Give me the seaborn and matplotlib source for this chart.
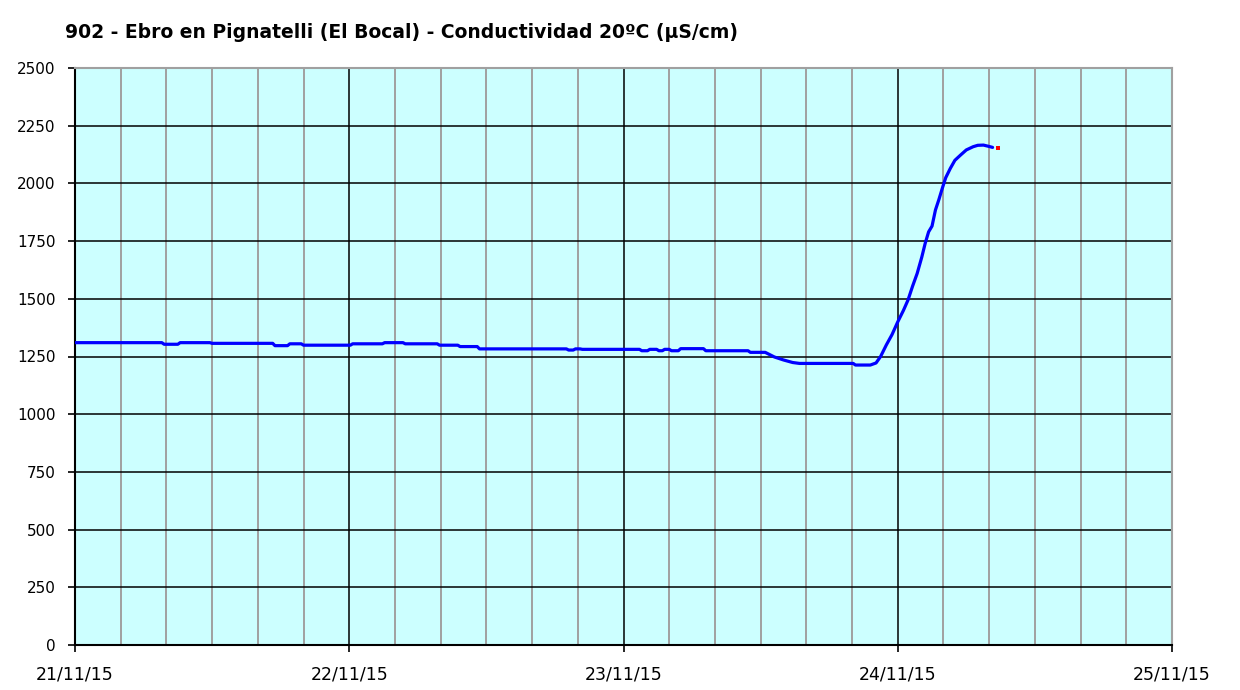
import pandas as pd
import numpy as np
import matplotlib
matplotlib.use('Agg')
import matplotlib.pyplot as plt
import matplotlib.dates as mdates
import seaborn as sns

# hours since 21/11/15 00:00 and conductivity (uS/cm)
hours = [0, 7.6, 7.8, 9.0, 9.2, 11.8, 12.0, 17.3, 17.5, 18.6, 18.8, 19.8, 20.0,
         24.1, 24.3, 26.9, 27.1, 28.7, 28.9, 31.7, 31.9, 33.5, 33.7, 35.2, 35.4,
         43.0, 43.2, 43.6, 43.8, 44.2, 44.4, 49.4, 49.6, 50.1, 50.3, 50.9, 51.1,
         51.4, 51.6, 52.0, 52.2, 52.8, 53.0, 55.0, 55.2, 58.9, 59.1, 60.4, 61.2,
         62.0, 62.8, 63.4, 68.1, 68.3, 69.6, 70.1, 70.5, 71.0, 71.5, 72.0, 72.5,
         72.9, 73.3, 73.7, 74.1, 74.4, 74.7, 75.0, 75.3, 75.6, 75.9, 76.2, 76.6,
         77.0, 77.5, 78.0, 78.6, 79.0, 79.5, 80.0, 80.3]
values = [1310, 1310, 1303, 1303, 1310, 1310, 1307, 1307, 1297, 1297, 1305, 1305, 1299,
          1299, 1305, 1305, 1310, 1310, 1305, 1305, 1299, 1299, 1293, 1293, 1283,
          1283, 1278, 1278, 1283, 1283, 1281, 1281, 1275, 1275, 1281, 1281, 1275,
          1275, 1281, 1281, 1275, 1275, 1284, 1284, 1275, 1275, 1268, 1268, 1248,
          1235, 1224, 1220, 1220, 1213, 1213, 1222, 1250, 1300, 1345, 1400, 1450,
          1495, 1555, 1610, 1680, 1740, 1790, 1815, 1885, 1930, 1979, 2025, 2065,
          2100, 2123, 2145, 2159, 2165, 2166, 2160, 2156]
# last reading, drawn in red
last_hour = [80.8]
last_value = [2152]

start = pd.Timestamp('2015-11-21')
df = pd.DataFrame({'t': start + pd.to_timedelta(hours, unit='h'), 'v': values})
df_last = pd.DataFrame({'t': start + pd.to_timedelta(last_hour, unit='h'), 'v': last_value})

sns.set_style('white')
plt.rcParams['font.family'] = ['DejaVu Sans']
plt.rcParams['text.color'] = 'black'
plt.rcParams['xtick.color'] = 'black'
plt.rcParams['ytick.color'] = 'black'

fig = plt.figure(figsize=(12.4, 6.9), dpi=100)
ax = fig.add_axes([75 / 1240, 45 / 690, 1097 / 1240, 577 / 690])
ax.set_facecolor('#CCFFFF')

sns.lineplot(data=df, x='t', y='v', ax=ax, color='#0000FF', linewidth=2.3, zorder=3)
sns.scatterplot(data=df_last, x='t', y='v', ax=ax, color='#FF0000', marker='s', s=8,
                edgecolor='none', zorder=4)

ax.set_xlim(start, start + pd.Timedelta(days=4))
ax.set_ylim(0, 2500)
ax.set_yticks(range(0, 2501, 250))
ax.xaxis.set_major_locator(mdates.DayLocator())
ax.xaxis.set_major_formatter(mdates.DateFormatter('%d/%m/%y'))
ax.xaxis.set_minor_locator(mdates.HourLocator(byhour=range(0, 24, 4)))

ax.grid(which='minor', axis='x', color='#A0A0A0', linewidth=1.4, zorder=1)
ax.grid(which='major', axis='x', color='black', linewidth=1.1, zorder=2)
ax.grid(which='major', axis='y', color='black', linewidth=1.1, zorder=2)
ax.set_axisbelow(True)

ax.tick_params(axis='both', which='major', direction='out', length=5, width=1.2,
               color='black', labelcolor='black', bottom=True, left=True)
ax.tick_params(axis='x', which='major', labelsize=12.5, pad=10)
ax.tick_params(axis='y', which='major', labelsize=11, pad=9)
ax.tick_params(axis='x', which='minor', length=0)
ax.set_xlabel('')
ax.set_ylabel('')

for side in ['left', 'bottom']:
    ax.spines[side].set_color('black')
    ax.spines[side].set_linewidth(1.5)
for side in ['top', 'right']:
    ax.spines[side].set_color('#A0A0A0')
    ax.spines[side].set_linewidth(1.5)

fig.text(65 / 1240, 1 - 33 / 690, '902 - Ebro en Pignatelli (El Bocal) - Conductividad 20ºC (µS/cm)',
         ha='left', va='center', fontsize=13.5, fontweight='bold', color='black')

plt.savefig('out.png', dpi=100)
plt.close()
